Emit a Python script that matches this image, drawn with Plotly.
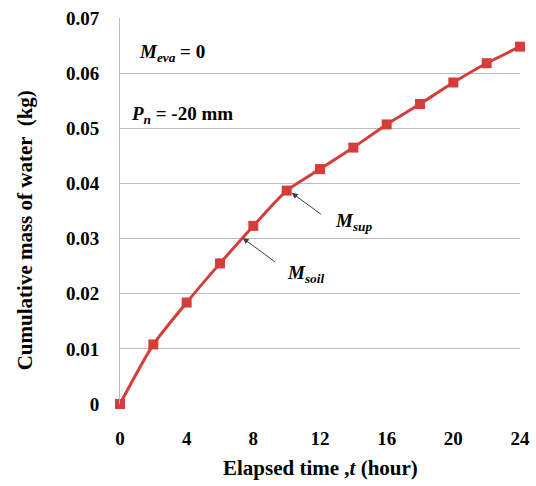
import plotly.graph_objects as go

time_h = [0, 2, 4, 6, 8, 10, 12, 14, 16, 18, 20, 22, 24]
mass_kg = [0.0, 0.0108, 0.0184, 0.0255, 0.0323, 0.0387, 0.0426, 0.0465, 0.0507, 0.0544, 0.0583, 0.0618, 0.0648]
x_ticks = [0, 4, 8, 12, 16, 20, 24]
y_ticks = [0, 0.01, 0.02, 0.03, 0.04, 0.05, 0.06, 0.07]
y_ticktext = ["0", "0.01", "0.02", "0.03", "0.04", "0.05", "0.06", "0.07"]

FONT = "Liberation Serif"
RED = "#d43d3a"
GRID = "#bcbcbc"

fig = go.Figure()
fig.add_trace(go.Scatter(
    x=time_h, y=mass_kg, mode="lines+markers",
    line=dict(color=RED, width=3, shape="spline", smoothing=0.6),
    marker=dict(symbol="square", size=10, color=RED),
    cliponaxis=False, showlegend=False,
))

fig.update_layout(
    width=536, height=486,
    margin=dict(l=120, r=16, t=18, b=82, autoexpand=False),
    paper_bgcolor="white", plot_bgcolor="white",
    font=dict(family=FONT, size=18, color="black"),
    xaxis=dict(range=[0, 24], tickvals=x_ticks, showgrid=False, zeroline=False,
               showline=False, ticks="outside", ticklen=17, tickcolor="rgba(0,0,0,0)",
               automargin=False,
               tickfont=dict(family=FONT, size=19, weight="bold")),
    yaxis=dict(range=[0, 0.07], tickvals=y_ticks, ticktext=y_ticktext,
               showgrid=True, gridcolor=GRID, gridwidth=1, zeroline=False,
               showline=True, linecolor=GRID, linewidth=1,
               ticks="outside", ticklen=16, tickcolor="rgba(0,0,0,0)",
               automargin=False,
               tickfont=dict(family=FONT, size=19, weight="bold")),
)

ann_font = dict(family=FONT, size=19, color="black", weight="bold")
title_font = dict(family=FONT, size=21, color="black", weight="bold")
fig.add_annotation(xref="paper", yref="paper", x=0.5, y=-0.165,
                   text="Elapsed time ,<i>t</i> (hour)", showarrow=False,
                   font=title_font, xanchor="center", yanchor="middle")
fig.add_annotation(xref="paper", yref="paper", x=-0.2375, y=0.45,
                   text="Cumulative mass of water  (kg)", showarrow=False,
                   textangle=-90, font=title_font, xanchor="center", yanchor="middle")

fig.add_annotation(xref="x", yref="y", x=1.0, y=0.0637,
                   text="<i>M</i><sub><i>eva</i></sub> = 0", showarrow=False,
                   font=ann_font, xanchor="left", yanchor="middle")
fig.add_annotation(xref="x", yref="y", x=0.55, y=0.0524,
                   text="<i>P</i><sub><i>n</i></sub> = -20 mm", showarrow=False,
                   font=ann_font, xanchor="left", yanchor="middle")
fig.add_annotation(xref="x", yref="y", x=10.3, y=0.0383,
                   ax=12.15, ay=0.0342, axref="x", ayref="y",
                   text="", showarrow=True, arrowhead=2, arrowsize=1.2,
                   arrowwidth=1, arrowcolor="#404040")
fig.add_annotation(xref="x", yref="y", x=12.75, y=0.0330,
                   text="<i>M</i><sub><i>sup</i></sub>", showarrow=False,
                   font=ann_font, xanchor="left", yanchor="middle")
fig.add_annotation(xref="x", yref="y", x=7.36, y=0.0301,
                   ax=9.4, ay=0.02555, axref="x", ayref="y",
                   text="", showarrow=True, arrowhead=2, arrowsize=1.2,
                   arrowwidth=1, arrowcolor="#404040")
fig.add_annotation(xref="x", yref="y", x=9.87, y=0.0236,
                   text="<i>M</i><sub><i>soil</i></sub>", showarrow=False,
                   font=ann_font, xanchor="left", yanchor="middle")

fig.write_html("out.html", config={"displayModeBar": False},
               post_script="document.body.style.margin='0';document.body.style.padding='0';")
